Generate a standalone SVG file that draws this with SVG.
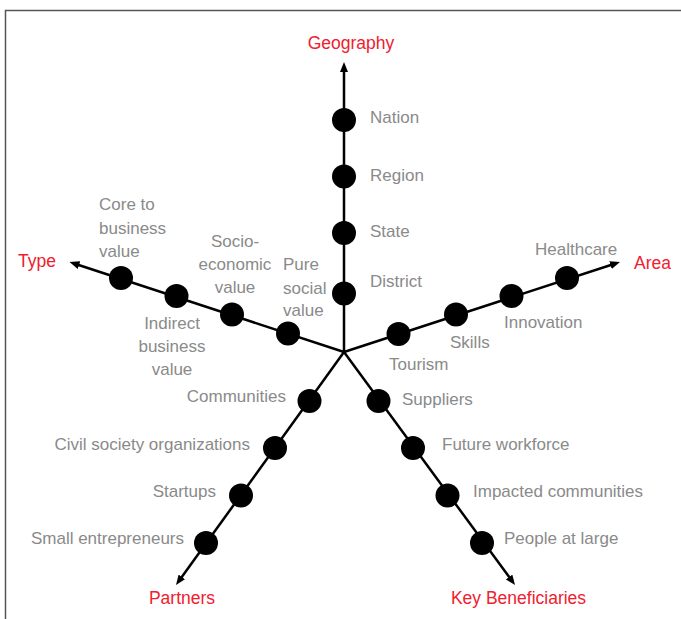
<svg xmlns="http://www.w3.org/2000/svg" width="681" height="619" viewBox="0 0 681 619">
<defs>
<marker id="arr" viewBox="0 0 10 8" refX="2" refY="4" markerWidth="10" markerHeight="8" markerUnits="userSpaceOnUse" orient="auto">
<path d="M0,0 L10,4 L0,8 z" fill="#000"/>
</marker>
<style>
.ax{stroke:#000;stroke-width:2.5;fill:none;marker-end:url(#arr)}
.dot{fill:#000}
.lbl{font-family:"Liberation Sans",Arial,sans-serif;font-size:17px;fill:#8a8a8a}
.ttl{font-family:"Liberation Sans",Arial,sans-serif;font-size:17.5px;fill:#f0202e}
.frame{stroke:#555;stroke-width:1.5;fill:none}
</style>
</defs>
<rect width="681" height="619" fill="#fff"/>
<path class="frame" d="M5.5,619 V10.5 H681"/>

<g id="connectors">
<line class="ax" x1="344" y1="352" x2="344" y2="70"/>
<line class="ax" x1="344" y1="352" x2="77.1" y2="264.5"/>
<line class="ax" x1="344" y1="352" x2="612.4" y2="264.5"/>
<line class="ax" x1="344" y1="352" x2="180.7" y2="578.5"/>
<line class="ax" x1="344" y1="352" x2="510.3" y2="578.6"/>
</g>

<g id="geography"><text class="ttl" x="351" y="49" text-anchor="middle">Geography</text></g>
<g id="type"><text class="ttl" x="18" y="267">Type</text></g>
<g id="area"><text class="ttl" x="634" y="269">Area</text></g>
<g id="partners"><text class="ttl" x="182" y="604" text-anchor="middle">Partners</text></g>
<g id="key-beneficiaries"><text class="ttl" x="518.5" y="604" text-anchor="middle">Key Beneficiaries</text></g>

<g id="nation"><circle class="dot" cx="344" cy="120" r="12"/><text class="lbl" x="370" y="123">Nation</text></g>
<g id="region"><circle class="dot" cx="344" cy="176.5" r="12"/><text class="lbl" x="370" y="181">Region</text></g>
<g id="state"><circle class="dot" cx="344" cy="233" r="12"/><text class="lbl" x="370" y="237">State</text></g>
<g id="district"><circle class="dot" cx="344" cy="293.5" r="12"/><text class="lbl" x="370" y="287">District</text></g>

<g id="core-business"><circle class="dot" cx="121" cy="278" r="12"/><text class="lbl" x="99"><tspan x="99" y="210">Core to</tspan><tspan x="99" y="233.5">business</tspan><tspan x="99" y="257">value</tspan></text></g>
<g id="indirect-business"><circle class="dot" cx="176.5" cy="296" r="12"/><text class="lbl" text-anchor="middle"><tspan x="172" y="329">Indirect</tspan><tspan x="172" y="352">business</tspan><tspan x="172" y="375">value</tspan></text></g>
<g id="socio-economic"><circle class="dot" cx="232" cy="314.5" r="12"/><text class="lbl" text-anchor="middle"><tspan x="235" y="246.5">Socio-</tspan><tspan x="235" y="270">economic</tspan><tspan x="235" y="293">value</tspan></text></g>
<g id="pure-social"><circle class="dot" cx="288" cy="333.5" r="12"/><text class="lbl"><tspan x="283" y="270">Pure</tspan><tspan x="283" y="293.5">social</tspan><tspan x="283" y="316">value</tspan></text></g>

<g id="tourism"><circle class="dot" cx="398.5" cy="334" r="12"/><text class="lbl" x="389" y="369.5">Tourism</text></g>
<g id="skills"><circle class="dot" cx="456" cy="314.5" r="12"/><text class="lbl" x="450" y="348">Skills</text></g>
<g id="innovation"><circle class="dot" cx="511.5" cy="296" r="12"/><text class="lbl" x="504" y="327.5">Innovation</text></g>
<g id="healthcare"><circle class="dot" cx="567" cy="278" r="12"/><text class="lbl" x="535" y="254.5">Healthcare</text></g>

<g id="communities"><circle class="dot" cx="309.5" cy="401" r="12"/><text class="lbl" x="286" y="401.5" text-anchor="end">Communities</text></g>
<g id="civil-society"><circle class="dot" cx="275" cy="448" r="12"/><text class="lbl" x="250" y="449.5" text-anchor="end">Civil society organizations</text></g>
<g id="startups"><circle class="dot" cx="241" cy="495.5" r="12"/><text class="lbl" x="216" y="497" text-anchor="end">Startups</text></g>
<g id="small-entrepreneurs"><circle class="dot" cx="206" cy="543" r="12"/><text class="lbl" x="184" y="544" text-anchor="end">Small entrepreneurs</text></g>

<g id="suppliers"><circle class="dot" cx="378.5" cy="401" r="12"/><text class="lbl" x="402" y="405">Suppliers</text></g>
<g id="future-workforce"><circle class="dot" cx="413" cy="448" r="12"/><text class="lbl" x="442" y="449.5">Future workforce</text></g>
<g id="impacted-communities"><circle class="dot" cx="447.5" cy="495.5" r="12"/><text class="lbl" x="473" y="497">Impacted communities</text></g>
<g id="people-at-large"><circle class="dot" cx="482" cy="543" r="12"/><text class="lbl" x="504" y="544">People at large</text></g>
</svg>
